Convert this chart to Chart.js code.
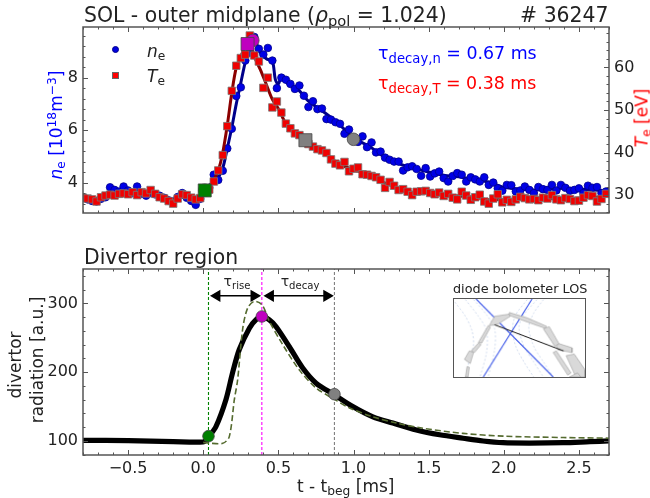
<!DOCTYPE html>
<html>
<head>
<meta charset="utf-8">
<title>SOL - outer midplane</title>
<script src="https://cdn.jsdelivr.net/npm/chart.js@4"></script>
<style>
    html, body { margin: 0; padding: 0; background: #fff; }
    body { width: 650px; height: 498px; position: relative; overflow: hidden; font-family: "DejaVu Sans", sans-serif; color: #222; }
    canvas { position: absolute; }
    #chart1 { left: 0; top: 0; }
    #chart2 { left: 0; top: 240px; }
    #inset { left: 452.5px; top: 298px; border: 1.5px solid #555; }
    .t { position: absolute; white-space: nowrap; line-height: 1; }
    .rot { transform: translate(-50%, -50%) rotate(-90deg); }
    .t sub { font-size: 72%; vertical-align: -0.28em; line-height: 0; }
    .t sup { font-size: 72%; vertical-align: 0.42em; line-height: 0; }
    .mark { position: absolute; box-sizing: border-box; }
</style>
</head>
<body>
<canvas id="chart1" width="650" height="230"></canvas>
<canvas id="chart2" width="650" height="258"></canvas>
<canvas id="inset" width="133" height="80"></canvas>

<div class="t" style="left:84px;top:5px;font-size:20.4px">SOL - outer midplane (<i>ρ</i><sub>pol</sub> = 1.024)</div>
<div class="t" style="right:41.5px;top:5px;font-size:20.4px"># 36247</div>
<div class="t" style="left:84px;top:247px;font-size:20.4px">Divertor region</div>

<div class="t rot" style="left:56px;top:125px;font-size:17px;color:#0000ff"><i>n</i><sub>e</sub> [10<sup>18</sup>m<sup>−3</sup>]</div>
<div class="t rot" style="left:642px;top:118px;font-size:17px;color:#ff0000"><i>T</i><sub>e</sub> [eV]</div>
<div class="t rot" style="left:15px;top:365px;font-size:17px">divertor</div>
<div class="t rot" style="left:37px;top:360px;font-size:17px">radiation [a.u.]</div>
<div class="t" style="left:297px;top:478px;font-size:17px">t - t<sub>beg</sub> [ms]</div>

<div class="mark" style="left:112px;top:46px;width:7px;height:7px;border-radius:50%;background:#0000e0;border:1px solid #00008b"></div>
<div class="mark" style="left:112px;top:72px;width:7px;height:7px;background:#f00;border:1px solid #666"></div>
<div class="t" style="left:147px;top:43px;font-size:17px"><i>n</i><sub>e</sub></div>
<div class="t" style="left:147px;top:68px;font-size:17px"><i>T</i><sub>e</sub></div>

<div class="t" style="left:378px;top:45px;font-size:17.4px;color:#0000ff">τ<sub style="font-size:76%">decay,n</sub> = 0.67 ms</div>
<div class="t" style="left:378px;top:75px;font-size:17.4px;color:#ff0000">τ<sub style="font-size:76%">decay,T</sub> = 0.38 ms</div>

<div class="t" style="left:237px;top:274px;font-size:14px;transform:translateX(-50%)">τ<sub>rise</sub></div>
<div class="t" style="left:300px;top:274px;font-size:14px;transform:translateX(-50%)">τ<sub>decay</sub></div>
<div class="t" style="left:453px;top:283px;font-size:12.8px">diode bolometer LOS</div>

<script>
// time base of the probe points [ms]
const tProbe = [
    -0.80, -0.77, -0.74, -0.71, -0.68, -0.65, -0.62, -0.59, -0.56, -0.53,
    -0.50, -0.47, -0.44, -0.41, -0.38, -0.35, -0.32, -0.29, -0.26, -0.23,
    -0.20, -0.17, -0.14, -0.11, -0.08, -0.05, -0.02, 0.01, 0.04, 0.07,
    0.10, 0.13, 0.16, 0.19, 0.22, 0.25, 0.28, 0.31, 0.34, 0.37,
    0.40, 0.43, 0.46, 0.49, 0.52, 0.55, 0.58, 0.61, 0.64, 0.67,
    0.70, 0.73, 0.76, 0.79, 0.82, 0.85, 0.88, 0.91, 0.94, 0.97,
    1.00, 1.03, 1.06, 1.09, 1.12, 1.15, 1.18, 1.21, 1.24, 1.27,
    1.30, 1.33, 1.36, 1.39, 1.42, 1.45, 1.48, 1.51, 1.54, 1.57,
    1.60, 1.63, 1.66, 1.69, 1.72, 1.75, 1.78, 1.81, 1.84, 1.87,
    1.90, 1.93, 1.96, 1.99, 2.02, 2.05, 2.08, 2.11, 2.14, 2.17,
    2.20, 2.23, 2.26, 2.29, 2.32, 2.35, 2.38, 2.41, 2.44, 2.47,
    2.50, 2.53, 2.56, 2.59, 2.62, 2.65, 2.68,
];
const nePoints = [
    3.42, 3.36, 3.30, 3.28, 3.38, 3.44, 3.82, 3.72, 3.66, 3.85,
    3.70, 3.60, 3.85, 3.58, 3.50, 3.60, 3.55, 3.50, 3.42, 3.32,
    3.28, 3.45, 3.60, 3.42, 3.30, 3.15, 3.38, 3.72, 3.80, 4.30,
    4.10, 4.45, 5.30, 6.05, 7.30, 7.63, 8.65, 8.95, 9.55, 9.10,
    8.88, 9.13, 8.65, 7.60, 8.00, 7.92, 7.76, 7.57, 7.70, 7.31,
    6.88, 7.10, 6.80, 6.82, 6.42, 6.40, 6.30, 6.24, 5.86, 6.02,
    5.70, 5.55, 5.76, 5.35, 5.53, 5.15, 5.18, 4.95, 4.87, 4.80,
    4.80, 4.46, 4.58, 4.62, 4.52, 4.26, 4.55, 4.23, 4.35, 4.42,
    4.17, 4.04, 4.25, 4.36, 4.30, 4.04, 4.20, 4.12, 4.04, 4.20,
    3.91, 4.00, 3.78, 3.69, 3.91, 3.90, 3.66, 3.70, 3.85, 3.72,
    3.60, 3.83, 3.75, 3.72, 3.91, 3.70, 3.91, 3.80, 3.69, 3.72,
    3.78, 3.60, 3.88, 3.80, 3.83, 3.60, 3.66,
];
const tePoints = [
    29.4, 29.2, 29.0, 28.5, 29.5, 29.9, 30.1, 29.9, 30.3, 30.4,
    30.2, 30.7, 30.0, 30.7, 30.4, 31.2, 30.3, 29.5, 29.2, 28.6,
    28.0, 29.2, 30.2, 30.0, 29.4, 29.0, 29.3, 31.0, 31.3, 33.2,
    35.8, 39.4, 46.2, 54.5, 60.4, 62.2, 63.0, 67.5, 62.8, 61.4,
    55.2, 57.6, 50.6, 52.0, 49.4, 46.8, 45.7, 44.5, 44.1, 43.0,
    42.0, 41.4, 40.8, 40.5, 39.9, 38.4, 37.4, 37.0, 37.8, 35.6,
    36.2, 36.5, 34.9, 34.8, 34.5, 34.2, 33.6, 31.7, 33.1, 32.2,
    31.2, 31.4, 30.8, 30.0, 30.8, 30.9, 31.0, 30.5, 30.2, 30.6,
    29.8, 30.3, 29.4, 29.0, 30.8, 29.9, 28.9, 29.5, 30.1, 28.5,
    28.0, 29.2, 30.2, 28.3, 28.9, 28.4, 29.0, 29.6, 29.3, 29.0,
    29.1, 28.8, 29.4, 29.2, 30.0, 29.0, 28.8, 29.3, 29.1, 28.6,
    28.7, 29.4, 30.0, 29.8, 28.5, 29.1, 30.3,
];

// smoothed probe traces
const tNeLine = [-0.8, -0.7, -0.6, -0.5, -0.4, -0.3, -0.2, -0.15, -0.1, -0.05, 0, 0.05, 0.1, 0.13, 0.16, 0.19, 0.22, 0.25, 0.28, 0.31, 0.34, 0.38, 0.42, 0.46, 0.48, 0.5, 0.52, 0.57, 0.63, 0.7, 0.8, 0.9, 1.0, 1.1, 1.2, 1.3, 1.4, 1.5, 1.6, 1.7, 1.8, 1.9, 2.0, 2.2, 2.4, 2.6, 2.7];
const neLine = [3.38, 3.35, 3.68, 3.72, 3.65, 3.52, 3.32, 3.45, 3.35, 3.35, 3.55, 3.95, 4.2, 4.55, 5.3, 6.1, 7.0, 7.8, 8.6, 9.2, 9.45, 8.95, 8.72, 8.62, 7.92, 7.75, 8.0, 7.73, 7.55, 7.1, 6.7, 6.25, 5.7, 5.4, 5.0, 4.72, 4.55, 4.4, 4.28, 4.22, 4.12, 4.02, 3.82, 3.72, 3.78, 3.72, 3.68];
const tTeLine = [-0.8, -0.7, -0.6, -0.5, -0.4, -0.3, -0.2, -0.15, -0.1, -0.05, 0, 0.05, 0.1, 0.13, 0.16, 0.19, 0.22, 0.25, 0.28, 0.31, 0.34, 0.38, 0.42, 0.46, 0.5, 0.55, 0.6, 0.7, 0.8, 0.9, 1.0, 1.1, 1.2, 1.3, 1.4, 1.5, 1.6, 1.7, 1.8, 1.9, 2.0, 2.2, 2.4, 2.6, 2.7];
const teLine = [29.3, 29.3, 30.0, 30.4, 30.5, 30.2, 28.9, 29.6, 29.7, 29.2, 30.2, 32.4, 35.8, 40, 46.4, 54, 60, 62.5, 65.0, 66.0, 62.5, 59.5, 56, 52.5, 50.3, 46.8, 44.8, 42.2, 40.2, 37.4, 36.0, 34.7, 33, 31.6, 30.6, 30.7, 30.1, 29.8, 29.5, 28.9, 29.0, 29.1, 29.2, 29.5, 29.9];

// start, peak and decay markers on the probe traces
const markColors = ["#008000", "#bf00bf", "#808080"];
const tNeMarks = [0.01, 0.33, 1.0];
const neMarks = [3.71, 9.42, 5.65];
const tTeMarks = [0.01, 0.295, 0.68];
const teMarks = [31.1, 65.5, 42.9];

// divertor radiation
const tRad = [-0.8, -0.5, -0.2, 0, 0.02, 0.04, 0.085, 0.151, 0.195, 0.24, 0.307, 0.35, 0.391, 0.44, 0.485, 0.573, 0.662, 0.751, 0.873, 0.995, 1.129, 1.262, 1.418, 1.573, 1.729, 1.862, 1.995, 2.173, 2.395, 2.573, 2.7];
const radiation = [101, 100.5, 99, 98.5, 102, 107, 121, 160, 199, 233, 264, 276, 281, 276, 266, 237, 206, 184, 167, 150, 135, 126, 116, 109, 104, 100, 97.5, 97, 97.5, 99, 100];
const tFit = [0, 0.035, 0.13, 0.173, 0.207, 0.229, 0.262, 0.295, 0.34, 0.391, 0.44, 0.529, 0.64, 0.751, 0.862, 0.973, 1.13, 1.285, 1.462, 1.729, 1.995, 2.395, 2.7];
const radFit = [98, 97, 96.6, 106, 160, 189, 262, 293, 303, 298, 274, 240, 203, 177, 162, 148, 135, 126, 118.5, 111, 107, 105, 104];
const tRadMarks = [0.035, 0.39, 0.873];
const radMarks = [107, 281, 168];
const riseArrow = [0.091, 0.338];
const decayArrow = [0.447, 0.822];
const arrowLevel = 311;

// tick positions and axis limits
const xRange = [-0.8, 2.7];
const xTicks = [-0.5, 0, 0.5, 1, 1.5, 2, 2.5];
const neRange = [2.84, 9.93];
const neTicks = [4, 6, 8];
const teRange = [25.8, 69.5];
const teTicks = [30, 40, 50, 60];
const radRange = [79.6, 350];
const radTicks = [100, 200, 300];

// diode bolometer sketch, in its own picture units
const losLines = [
    [[93, 70], [330, 318]],
    [[265, 70], [115, 318]],
];
const chordLine = [[150, 152], [362, 235]];
const fluxLines = [
    [[28, 80], [60, 125], [80, 170], [85, 215], [70, 270], [65, 318]],
    [[60, 72], [100, 125], [125, 170], [125, 240], [105, 318]],
    [[85, 72], [125, 120], [150, 165], [150, 230], [130, 318]],
    [[250, 72], [215, 120], [205, 165], [215, 220], [240, 270], [270, 318]],
    [[280, 72], [240, 120], [225, 160], [240, 220], [270, 270], [300, 318]],
    [[300, 72], [270, 115], [255, 160], [270, 220], [300, 270], [330, 318]],
];
const wallParts = [
    [[150, 125], [195, 118], [198, 125], [160, 150], [150, 152], [133, 155], [150, 125]],
    [[195, 113], [250, 130], [310, 157], [305, 163], [250, 143], [195, 122], [195, 113]],
    [[300, 165], [318, 158], [348, 212], [335, 220], [300, 165]],
    [[340, 220], [348, 212], [388, 225], [388, 240], [345, 232], [340, 220]],
    [[100, 208], [130, 155], [137, 160], [110, 210], [100, 208]],
    [[78, 235], [100, 210], [108, 215], [88, 240], [78, 235]],
    [[57, 262], [72, 235], [85, 240], [75, 275], [57, 262]],
    [[60, 318], [65, 285], [72, 287], [68, 318], [60, 318]],
    [[370, 250], [395, 245], [428, 295], [428, 318], [400, 318], [370, 250]],
    [[340, 235], [385, 305], [375, 312], [330, 240], [340, 235]],
    [[380, 318], [405, 305], [415, 318], [380, 318]],
];

const frameColor = "#555";
const tickFont = { family: "DejaVu Sans", size: 16 };

function pairs(xs, ys) {
    return xs.map(function (x, i) {
        return { x: x, y: ys[i] };
    });
}

function minorTicks(range, step) {
    var out = [];
    var n = Math.ceil(range[0] / step);
    while (n * step <= range[1]) {
        out.push(n * step);
        n++;
    }
    return out;
}

function setTicks(list) {
    return function (axis) {
        axis.ticks = list.map(function (v) {
            return { value: v };
        });
    };
}

// matplotlib style frame: ticks point inwards on all four sides
function framePlugin(leftAxis, rightAxis) {
    return {
        id: "frame",
        afterDatasetsDraw: function (chart) {
            var ctx = chart.ctx;
            var a = chart.chartArea;
            ctx.save();
            ctx.strokeStyle = frameColor;
            ctx.lineWidth = 1;

            function drawH(scale, spec, x0, dir) {
                spec.major.concat(spec.minor).forEach(function (v, i) {
                    var y = Math.round(scale.getPixelForValue(v)) + 0.5;
                    var len = i < spec.major.length ? 5 : 2.5;
                    ctx.beginPath();
                    ctx.moveTo(x0, y);
                    ctx.lineTo(x0 + dir * len, y);
                    ctx.stroke();
                });
            }
            var xs = chart.scales.x;
            xTicks.concat(minorTicks(xRange, 0.1)).forEach(function (v, i) {
                var x = Math.round(xs.getPixelForValue(v)) + 0.5;
                var len = i < xTicks.length ? 5 : 2.5;
                ctx.beginPath();
                ctx.moveTo(x, a.bottom);
                ctx.lineTo(x, a.bottom - len);
                ctx.moveTo(x, a.top);
                ctx.lineTo(x, a.top + len);
                ctx.stroke();
            });
            drawH(chart.scales[leftAxis.id], leftAxis, a.left, 1);
            drawH(chart.scales[rightAxis.id], rightAxis, a.right, -1);

            ctx.lineWidth = 1.5;
            ctx.strokeRect(a.left, a.top, a.right - a.left, a.bottom - a.top);
            ctx.restore();
        },
    };
}

const noGrid = { display: false, drawTicks: false };

new Chart(document.getElementById("chart1").getContext("2d"), {
    type: "scatter",
    data: {
        datasets: [
            {
                label: "ne trace",
                data: pairs(tNeLine, neLine),
                yAxisID: "yNe",
                showLine: true,
                borderColor: "#00008b",
                borderWidth: 3,
                tension: 0.3,
                pointRadius: 0,
                order: 7,
            },
            {
                label: "ne",
                data: pairs(tProbe, nePoints),
                yAxisID: "yNe",
                pointRadius: 3.8,
                pointBackgroundColor: "#0000e6",
                pointBorderColor: "#00008b",
                pointBorderWidth: 0.8,
                order: 6,
            },
            {
                label: "Te trace",
                data: pairs(tTeLine, teLine),
                yAxisID: "yTe",
                showLine: true,
                borderColor: "#8b0000",
                borderWidth: 3,
                tension: 0.3,
                pointRadius: 0,
                order: 4,
            },
            {
                label: "Te",
                data: pairs(tProbe, tePoints),
                yAxisID: "yTe",
                pointStyle: "rect",
                pointRadius: 5.3,
                pointBackgroundColor: "#f00000",
                pointBorderColor: "#777",
                pointBorderWidth: 0.8,
                order: 3,
            },
            {
                label: "ne marks",
                data: pairs(tNeMarks, neMarks),
                yAxisID: "yNe",
                pointRadius: 6.3,
                pointBackgroundColor: markColors,
                pointBorderColor: "#444",
                pointBorderWidth: 0.8,
                order: 2,
            },
            {
                label: "Te marks",
                data: pairs(tTeMarks, teMarks),
                yAxisID: "yTe",
                pointStyle: "rect",
                pointRadius: 9.2,
                pointBackgroundColor: markColors,
                pointBorderColor: "#444",
                pointBorderWidth: 0.8,
                order: 1,
            },
        ],
    },
    options: {
        responsive: false,
        animation: false,
        layout: { padding: { top: 27, left: 0, right: 0, bottom: 0 } },
        plugins: { legend: { display: false }, tooltip: { enabled: false } },
        scales: {
            x: {
                type: "linear",
                min: xRange[0],
                max: xRange[1],
                grid: noGrid,
                border: { display: false },
                ticks: { display: false },
                afterFit: function (axis) {
                    axis.height = 17;
                },
            },
            yNe: {
                type: "linear",
                position: "left",
                min: neRange[0],
                max: neRange[1],
                grid: noGrid,
                border: { display: false },
                afterBuildTicks: setTicks(neTicks),
                ticks: { font: tickFont, color: "#222", padding: 5 },
                afterFit: function (axis) {
                    axis.width = 83;
                },
            },
            yTe: {
                type: "linear",
                position: "right",
                min: teRange[0],
                max: teRange[1],
                grid: noGrid,
                border: { display: false },
                afterBuildTicks: setTicks(teTicks),
                ticks: { font: tickFont, color: "#222", padding: 5 },
                afterFit: function (axis) {
                    axis.width = 41;
                },
            },
        },
    },
    plugins: [
        framePlugin(
            { id: "yNe", major: neTicks, minor: minorTicks(neRange, 0.4) },
            { id: "yTe", major: teTicks, minor: minorTicks(teRange, 2) }
        ),
    ],
});

function vLine(x, color) {
    return {
        data: [
            { x: x, y: radRange[0] },
            { x: x, y: radRange[1] },
        ],
        showLine: true,
        borderColor: color,
        borderWidth: 1.1,
        borderDash: [3, 2],
        pointRadius: 0,
        order: 6,
    };
}

function arrow(ends) {
    return {
        data: [
            { x: ends[0], y: arrowLevel },
            { x: ends[1], y: arrowLevel },
        ],
        showLine: true,
        borderColor: "#000",
        borderWidth: 1.5,
        pointStyle: "triangle",
        pointRotation: [-90, 90],
        pointRadius: 5.5,
        pointBackgroundColor: "#000",
        pointBorderColor: "#000",
        order: 1,
    };
}

new Chart(document.getElementById("chart2").getContext("2d"), {
    type: "scatter",
    data: {
        datasets: [
            vLine(tRadMarks[0], "#008000"),
            vLine(tRadMarks[1], "#ff00ff"),
            vLine(tRadMarks[2], "#808080"),
            {
                label: "radiation",
                data: pairs(tRad, radiation),
                showLine: true,
                borderColor: "#000",
                borderWidth: 5.2,
                tension: 0.3,
                pointRadius: 0,
                order: 5,
            },
            {
                label: "fit",
                data: pairs(tFit, radFit),
                showLine: true,
                borderColor: "#556b2f",
                borderWidth: 1.6,
                borderDash: [6, 3],
                tension: 0.3,
                pointRadius: 0,
                order: 4,
            },
            {
                label: "marks",
                data: pairs(tRadMarks, radMarks),
                pointRadius: 5.8,
                pointBackgroundColor: markColors,
                pointBorderColor: "#444",
                pointBorderWidth: 0.8,
                order: 3,
            },
            arrow(riseArrow),
            arrow(decayArrow),
        ],
    },
    options: {
        responsive: false,
        animation: false,
        layout: { padding: { top: 29, left: 0, right: 41, bottom: 0 } },
        plugins: { legend: { display: false }, tooltip: { enabled: false } },
        scales: {
            x: {
                type: "linear",
                min: xRange[0],
                max: xRange[1],
                grid: noGrid,
                border: { display: false },
                afterBuildTicks: setTicks(xTicks),
                ticks: {
                    font: tickFont,
                    color: "#222",
                    padding: 4,
                    maxRotation: 0,
                    autoSkip: false,
                    callback: function (v) {
                        return v.toFixed(1).replace("-", "−");
                    },
                },
                afterFit: function (axis) {
                    axis.height = 43;
                },
            },
            y: {
                type: "linear",
                min: radRange[0],
                max: radRange[1],
                grid: noGrid,
                border: { display: false },
                afterBuildTicks: setTicks(radTicks),
                ticks: { font: tickFont, color: "#222", padding: 5 },
                afterFit: function (axis) {
                    axis.width = 83;
                },
            },
        },
    },
    plugins: [
        framePlugin(
            { id: "y", major: radTicks, minor: minorTicks(radRange, 20) },
            { id: "y", major: radTicks, minor: minorTicks(radRange, 20) }
        ),
    ],
});

function asPoints(list) {
    return list.map(function (p) {
        return { x: p[0], y: p[1] };
    });
}

var insetSets = [];
fluxLines.forEach(function (line) {
    insetSets.push({ data: asPoints(line), showLine: true, borderColor: "#c5d3ea", borderWidth: 0.8, borderDash: [2, 2], tension: 0.3, pointRadius: 0 });
});
losLines.forEach(function (line) {
    insetSets.push({ data: asPoints(line), showLine: true, borderColor: "#3a55e8", borderWidth: 1.1, pointRadius: 0 });
});
wallParts.forEach(function (part) {
    insetSets.push({ data: asPoints(part), showLine: true, fill: "shape", backgroundColor: "#d9d9d9", borderColor: "#999", borderWidth: 0.6, pointRadius: 0 });
});
insetSets.push({ data: asPoints(chordLine), showLine: true, borderColor: "#111", borderWidth: 1, pointRadius: 0 });
insetSets.forEach(function (set, i) {
    set.order = insetSets.length - i;
});

new Chart(document.getElementById("inset").getContext("2d"), {
    type: "scatter",
    data: { datasets: insetSets },
    options: {
        responsive: false,
        animation: false,
        plugins: { legend: { display: false }, tooltip: { enabled: false } },
        scales: {
            x: { type: "linear", display: false, min: 25, max: 428 },
            y: { type: "linear", display: false, min: 70, max: 318, reverse: true },
        },
    },
});
</script>
</body>
</html>
